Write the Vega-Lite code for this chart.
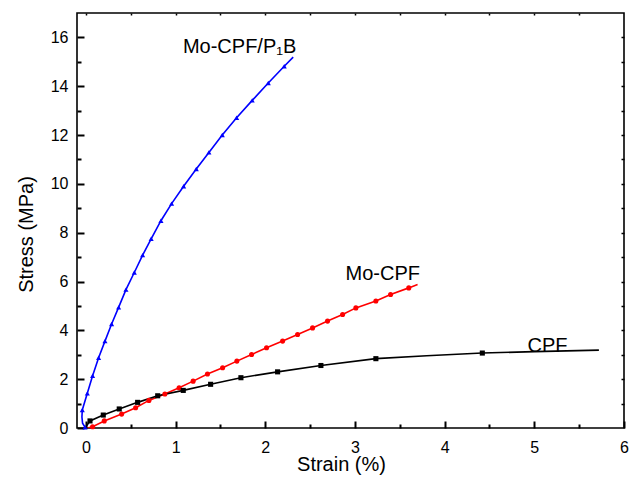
{
  "$schema": "https://vega.github.io/schema/vega-lite/v6.json",
  "width": 547,
  "height": 415,
  "autosize": "none",
  "padding": {"left": 77, "top": 13, "right": 6, "bottom": 50},
  "background": "white",
  "config": {
    "font": "Liberation Sans",
    "view": {"stroke": "black", "strokeWidth": 1.6},
    "axis": {"grid": false, "domain": false, "labelColor": "black", "labelFont": "Liberation Sans", "titleFont": "Liberation Sans", "titleColor": "black", "titleFontWeight": "normal"}
  },
  "datasets": {
    "curves": [
      {"s": "Mo-CPF/P1B", "i": 0, "x": -0.01, "y": 0.03, "m": 1},
      {"s": "Mo-CPF/P1B", "i": 1, "x": -0.038, "y": 0.2, "m": 0},
      {"s": "Mo-CPF/P1B", "i": 2, "x": -0.045, "y": 0.45, "m": 0},
      {"s": "Mo-CPF/P1B", "i": 3, "x": -0.041, "y": 0.74, "m": 1},
      {"s": "Mo-CPF/P1B", "i": 4, "x": 0.015, "y": 1.42, "m": 1},
      {"s": "Mo-CPF/P1B", "i": 5, "x": 0.074, "y": 2.14, "m": 1},
      {"s": "Mo-CPF/P1B", "i": 6, "x": 0.141, "y": 2.88, "m": 1},
      {"s": "Mo-CPF/P1B", "i": 7, "x": 0.212, "y": 3.56, "m": 1},
      {"s": "Mo-CPF/P1B", "i": 8, "x": 0.286, "y": 4.26, "m": 1},
      {"s": "Mo-CPF/P1B", "i": 9, "x": 0.364, "y": 4.94, "m": 1},
      {"s": "Mo-CPF/P1B", "i": 10, "x": 0.446, "y": 5.67, "m": 1},
      {"s": "Mo-CPF/P1B", "i": 11, "x": 0.539, "y": 6.37, "m": 1},
      {"s": "Mo-CPF/P1B", "i": 12, "x": 0.632, "y": 7.08, "m": 1},
      {"s": "Mo-CPF/P1B", "i": 13, "x": 0.727, "y": 7.75, "m": 1},
      {"s": "Mo-CPF/P1B", "i": 14, "x": 0.836, "y": 8.49, "m": 1},
      {"s": "Mo-CPF/P1B", "i": 15, "x": 0.955, "y": 9.19, "m": 1},
      {"s": "Mo-CPF/P1B", "i": 16, "x": 1.089, "y": 9.9, "m": 1},
      {"s": "Mo-CPF/P1B", "i": 17, "x": 1.23, "y": 10.61, "m": 1},
      {"s": "Mo-CPF/P1B", "i": 18, "x": 1.371, "y": 11.29, "m": 1},
      {"s": "Mo-CPF/P1B", "i": 19, "x": 1.52, "y": 12.0, "m": 1},
      {"s": "Mo-CPF/P1B", "i": 20, "x": 1.68, "y": 12.71, "m": 1},
      {"s": "Mo-CPF/P1B", "i": 21, "x": 1.854, "y": 13.42, "m": 1},
      {"s": "Mo-CPF/P1B", "i": 22, "x": 2.033, "y": 14.13, "m": 1},
      {"s": "Mo-CPF/P1B", "i": 23, "x": 2.211, "y": 14.82, "m": 1},
      {"s": "Mo-CPF/P1B", "i": 24, "x": 2.311, "y": 15.19, "m": 0},
      {"s": "Mo-CPF", "i": 0, "x": 0.02, "y": 0.0, "m": 0},
      {"s": "Mo-CPF", "i": 1, "x": 0.074, "y": 0.05, "m": 1},
      {"s": "Mo-CPF", "i": 2, "x": 0.204, "y": 0.29, "m": 1},
      {"s": "Mo-CPF", "i": 3, "x": 0.398, "y": 0.57, "m": 1},
      {"s": "Mo-CPF", "i": 4, "x": 0.554, "y": 0.83, "m": 1},
      {"s": "Mo-CPF", "i": 5, "x": 0.702, "y": 1.13, "m": 1},
      {"s": "Mo-CPF", "i": 6, "x": 0.88, "y": 1.39, "m": 1},
      {"s": "Mo-CPF", "i": 7, "x": 1.039, "y": 1.65, "m": 1},
      {"s": "Mo-CPF", "i": 8, "x": 1.195, "y": 1.92, "m": 1},
      {"s": "Mo-CPF", "i": 9, "x": 1.355, "y": 2.21, "m": 1},
      {"s": "Mo-CPF", "i": 10, "x": 1.524, "y": 2.47, "m": 1},
      {"s": "Mo-CPF", "i": 11, "x": 1.683, "y": 2.74, "m": 1},
      {"s": "Mo-CPF", "i": 12, "x": 1.847, "y": 3.01, "m": 1},
      {"s": "Mo-CPF", "i": 13, "x": 2.014, "y": 3.29, "m": 1},
      {"s": "Mo-CPF", "i": 14, "x": 2.193, "y": 3.56, "m": 1},
      {"s": "Mo-CPF", "i": 15, "x": 2.36, "y": 3.83, "m": 1},
      {"s": "Mo-CPF", "i": 16, "x": 2.527, "y": 4.1, "m": 1},
      {"s": "Mo-CPF", "i": 17, "x": 2.694, "y": 4.38, "m": 1},
      {"s": "Mo-CPF", "i": 18, "x": 2.862, "y": 4.65, "m": 1},
      {"s": "Mo-CPF", "i": 19, "x": 3.01, "y": 4.92, "m": 1},
      {"s": "Mo-CPF", "i": 20, "x": 3.233, "y": 5.2, "m": 1},
      {"s": "Mo-CPF", "i": 21, "x": 3.397, "y": 5.47, "m": 1},
      {"s": "Mo-CPF", "i": 22, "x": 3.6, "y": 5.74, "m": 1},
      {"s": "Mo-CPF", "i": 23, "x": 3.698, "y": 5.88, "m": 0},
      {"s": "CPF", "i": 0, "x": 0.0, "y": 0.05, "m": 0},
      {"s": "CPF", "i": 1, "x": 0.045, "y": 0.29, "m": 1},
      {"s": "CPF", "i": 2, "x": 0.193, "y": 0.53, "m": 1},
      {"s": "CPF", "i": 3, "x": 0.371, "y": 0.78, "m": 1},
      {"s": "CPF", "i": 4, "x": 0.576, "y": 1.05, "m": 1},
      {"s": "CPF", "i": 5, "x": 0.8, "y": 1.32, "m": 1},
      {"s": "CPF", "i": 6, "x": 1.085, "y": 1.54, "m": 1},
      {"s": "CPF", "i": 7, "x": 1.39, "y": 1.79, "m": 1},
      {"s": "CPF", "i": 8, "x": 1.728, "y": 2.06, "m": 1},
      {"s": "CPF", "i": 9, "x": 2.137, "y": 2.3, "m": 1},
      {"s": "CPF", "i": 10, "x": 2.62, "y": 2.56, "m": 1},
      {"s": "CPF", "i": 11, "x": 3.233, "y": 2.84, "m": 1},
      {"s": "CPF", "i": 12, "x": 3.8, "y": 2.96, "m": 0},
      {"s": "CPF", "i": 13, "x": 4.42, "y": 3.07, "m": 1},
      {"s": "CPF", "i": 14, "x": 5.0, "y": 3.13, "m": 0},
      {"s": "CPF", "i": 15, "x": 5.72, "y": 3.19, "m": 0}
    ],
    "labels": [
      {"x": 1.081, "y": 15.38, "label": "Mo-CPF/P₁B"},
      {"x": 2.895, "y": 6.08, "label": "Mo-CPF"},
      {"x": 4.924, "y": 3.1, "label": "CPF"}
    ]
  },
  "resolve": {"axis": {"x": "independent", "y": "independent"}},
  "layer": [
    {
      "data": {"name": "curves"},
      "mark": {"type": "line", "strokeWidth": 1.6, "clip": true},
      "encoding": {
        "x": {"field": "x", "type": "quantitative", "scale": {"domain": [-0.1, 6], "nice": false, "zero": false},
          "axis": {"orient": "bottom", "values": [0, 1, 2, 3, 4, 5, 6], "offset": -7, "ticks": true, "tickSize": 7, "tickColor": "#000000", "tickWidth": 2, "labelPadding": 11, "labelFontSize": 16, "labelOverlap": false, "labelFlush": false, "title": "Strain (%)", "titleFontSize": 20, "titleX": 264, "titleY": 49, "titleBaseline": "alphabetic", "titleAlign": "center", "titleAnchor": null}},
        "y": {"field": "y", "type": "quantitative", "scale": {"domain": [0, 17], "nice": false, "zero": false},
          "axis": {"orient": "left", "values": [0, 2, 4, 6, 8, 10, 12, 14, 16], "offset": -7, "ticks": true, "tickSize": 7, "tickColor": "#000000", "tickWidth": 2, "labelPadding": 9, "labelFontSize": 16, "labelOverlap": false, "labelFlush": false, "title": "Stress (MPa)", "titleFontSize": 20, "titleX": -52, "titleY": 221, "titleBaseline": "alphabetic", "titleAlign": "center", "titleAngle": -90, "titleAnchor": null}},
        "color": {"field": "s", "type": "nominal", "scale": {"domain": ["CPF", "Mo-CPF", "Mo-CPF/P1B"], "range": ["#000000", "#ff0000", "#0000ff"]}, "legend": null},
        "order": {"field": "i", "type": "quantitative"}
      }
    },
    {
      "data": {"name": "curves"},
      "transform": [{"filter": "datum.m == 1"}],
      "mark": {"type": "point", "filled": true, "opacity": 1, "size": 26},
      "encoding": {
        "x": {"field": "x", "type": "quantitative",
          "axis": {"orient": "bottom", "values": [0.5, 1.5, 2.5, 3.5, 4.5, 5.5], "offset": -4, "ticks": true, "tickSize": 4, "tickColor": "#000000", "tickWidth": 2, "labels": false, "title": null}},
        "y": {"field": "y", "type": "quantitative",
          "axis": {"orient": "left", "values": [1, 3, 5, 7, 9, 11, 13, 15], "offset": -4, "ticks": true, "tickSize": 4, "tickColor": "#000000", "tickWidth": 2, "labels": false, "title": null}},
        "color": {"field": "s", "type": "nominal", "legend": null},
        "shape": {"field": "s", "type": "nominal", "scale": {"domain": ["CPF", "Mo-CPF", "Mo-CPF/P1B"], "range": ["square", "circle", "triangle-up"]}, "legend": null}
      }
    },
    {
      "data": {"name": "labels"},
      "mark": {"type": "text", "align": "left", "baseline": "alphabetic", "fontSize": 20, "font": "Liberation Sans", "color": "black"},
      "encoding": {
        "x": {"field": "x", "type": "quantitative",
          "axis": {"orient": "top", "values": [0, 0.5, 1, 1.5, 2, 2.5, 3, 3.5, 4, 4.5, 5, 5.5], "offset": -2, "ticks": true, "tickSize": 2, "tickColor": "#000000", "tickWidth": 1.5, "labels": false, "title": null}},
        "y": {"field": "y", "type": "quantitative",
          "axis": {"orient": "right", "values": [1, 2, 3, 4, 5, 6, 7, 8, 9, 10, 11, 12, 13, 14, 15, 16], "offset": -3, "ticks": true, "tickSize": 3, "tickColor": "#000000", "tickWidth": 1.5, "labels": false, "title": null}},
        "text": {"field": "label", "type": "nominal"}
      }
    }
  ]
}
